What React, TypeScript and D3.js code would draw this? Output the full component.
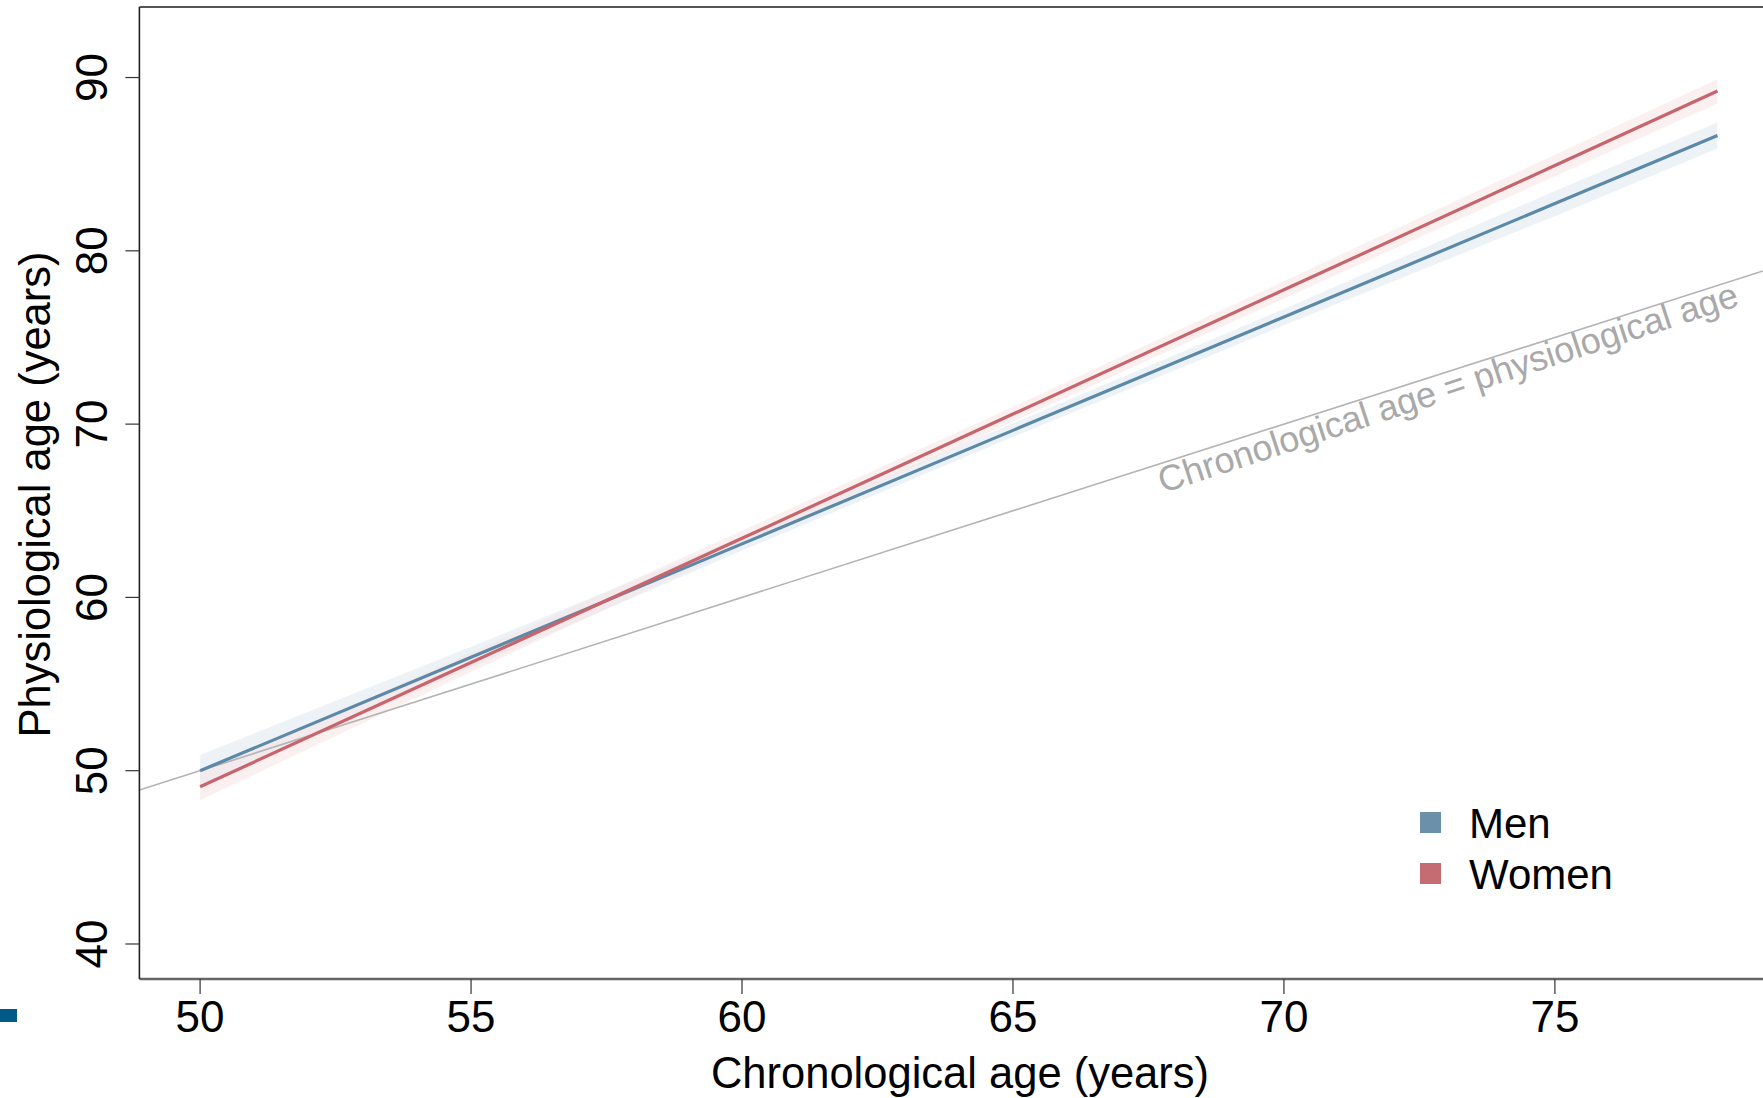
import React from "react";
import * as d3 from "d3";

// ---- data ----
const ageGrid = [50, 55, 60, 65, 70, 75, 78];
const menFit = [50.0, 56.55, 63.09, 69.64, 76.18, 82.73, 86.66];
const menLow = [49.1, 55.95, 62.7, 69.25, 75.7, 82.0, 85.9];
const menHigh = [50.9, 57.15, 63.5, 70.05, 76.65, 83.45, 87.4];
const womenFit = [49.07, 56.24, 63.41, 70.58, 77.75, 84.92, 89.22];
const womenLow = [48.3, 55.7, 63.0, 70.15, 77.25, 84.3, 88.5];
const womenHigh = [49.9, 56.8, 63.85, 71.0, 78.25, 85.55, 89.9];
const xTicks = [50, 55, 60, 65, 70, 75];
const yTicks = [40, 50, 60, 70, 80, 90];
const identityLine = [48.88, 78.84];
const legendItems = ["Men", "Women"];

const W = 1763;
const H = 1098;
const FONT = "'Liberation Sans', Arial, sans-serif";
const BLUE = "#5c89a8";
const RED = "#c8646c";
const BLUE_SQ = "#6a90aa";
const RED_SQ = "#c46c72";

export default function App() {
  const left = 139.4;
  const right = 1763;
  const top = 7;
  const bottom = 979;
  const x = d3.scaleLinear().domain([48.88, 78.84]).range([left, right]);
  const y = d3.scaleLinear().domain([37.98, 94.07]).range([bottom, top]);

  const line = d3
    .line<number>()
    .x((_, i) => x(ageGrid[i]))
    .y((d) => y(d));

  const area = (lo: number[], hi: number[]) =>
    d3
      .area<number>()
      .x((d) => x(d))
      .y0((_, i) => y(lo[i]))
      .y1((_, i) => y(hi[i]))(ageGrid) as string;

  const p0 = [x(identityLine[0]), y(identityLine[0])];
  const p1 = [x(identityLine[1]), y(identityLine[1])];
  const angle = (Math.atan2(p1[1] - p0[1], p1[0] - p0[0]) * 180) / Math.PI - 0.3;
  const labelAt = 67.6;

  const series = [
    { name: legendItems[0], fit: menFit, lo: menLow, hi: menHigh, c: BLUE, sq: BLUE_SQ, band: "#dfe8ef" },
    { name: legendItems[1], fit: womenFit, lo: womenLow, hi: womenHigh, c: RED, sq: RED_SQ, band: "#f5e3e4" },
  ];

  return (
    <svg
      width={W}
      height={H}
      style={{ position: "absolute", left: 0, top: 0, background: "#fff" }}
      fontFamily={FONT}
    >
      <rect x={0} y={0} width={W} height={H} fill="#fff" />
      <defs>
        <clipPath id="plot">
          <rect x={left} y={top} width={right - left} height={bottom - top} />
        </clipPath>
      </defs>

      <g clipPath="url(#plot)">
        {series.map((s) => (
          <path key={s.name + "b"} d={area(s.lo, s.hi)} fill={s.band} opacity={0.55} />
        ))}
        <line
          x1={p0[0]}
          y1={p0[1]}
          x2={p1[0]}
          y2={p1[1]}
          stroke="#b4b4b4"
          strokeWidth={1.6}
        />
        {series.map((s) => (
          <path key={s.name} d={line(s.fit) as string} fill="none" stroke={s.c} strokeWidth={3.2} />
        ))}
      </g>

      {/* annotation */}
      <text
        transform={`translate(${x(labelAt)},${y(labelAt)}) rotate(${angle})`}
        y={29}
        fontSize={36}
        fill="#a9a9a9"
      >
        Chronological age = physiological age
      </text>

      {/* frame */}
      <line x1={left} x2={right} y1={top} y2={top} stroke="#555" strokeWidth={2} />
      <line x1={left} x2={right} y1={bottom} y2={bottom} stroke="#666" strokeWidth={2.5} />
      <line x1={left} x2={left} y1={top} y2={bottom} stroke="#222" strokeWidth={1.6} />

      {/* x axis */}
      {xTicks.map((t) => (
        <g key={"x" + t}>
          <line x1={x(t)} x2={x(t)} y1={bottom} y2={bottom + 15} stroke="#333" strokeWidth={1.2} />
          <text x={x(t)} y={1032} fontSize={44} textAnchor="middle" fill="#000">
            {t}
          </text>
        </g>
      ))}
      <text x={960} y={1088} fontSize={43.5} textAnchor="middle" fill="#000">
        Chronological age (years)
      </text>

      {/* y axis */}
      {yTicks.map((t) => (
        <g key={"y" + t}>
          <line x1={left - 14} x2={left} y1={y(t)} y2={y(t)} stroke="#333" strokeWidth={1.2} />
          <text
            transform={`translate(107,${y(t)}) rotate(-90)`}
            fontSize={44}
            textAnchor="middle"
            fill="#000"
          >
            {t}
          </text>
        </g>
      ))}
      <text
        transform={`translate(50,494.5) rotate(-90)`}
        fontSize={43.5}
        textAnchor="middle"
        fill="#000"
      >
        Physiological age (years)
      </text>

      {/* legend */}
      {series.map((s, i) => (
        <g key={"lg" + s.name} transform={`translate(1420,${812 + i * 51})`}>
          <rect x={0} y={0} width={21} height={21} fill={s.sq} />
          <text x={49} y={26} fontSize={42} fill="#000">
            {s.name}
          </text>
        </g>
      ))}

      {/* stray mark at bottom-left */}
      <rect x={0} y={1009} width={17} height={13} fill="#005a87" />
    </svg>
  );
}
